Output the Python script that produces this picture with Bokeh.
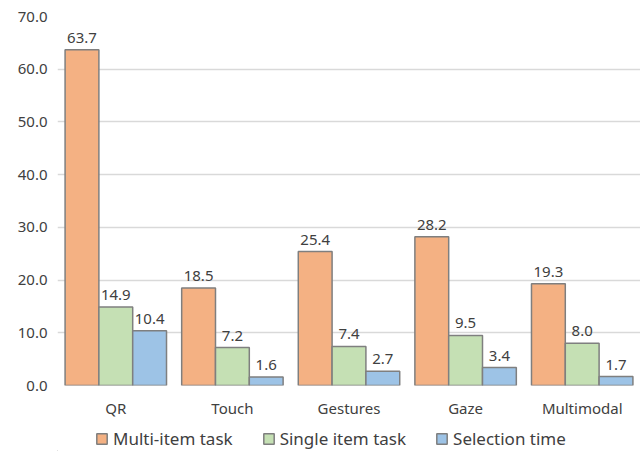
from bokeh.plotting import figure
from bokeh.models import ColumnDataSource, Legend, LegendItem, LabelSet, FactorRange, NumeralTickFormatter, Range1d
from bokeh.layouts import column
from bokeh.core.properties import value
from bokeh.transform import dodge
from bokeh.embed import file_html
from bokeh.resources import INLINE

categories = ["QR", "Touch", "Gestures", "Gaze", "Multimodal"]
multi_item = [63.7, 18.5, 25.4, 28.2, 19.3]
single_item = [14.9, 7.2, 7.4, 9.5, 8.0]
selection_time = [10.4, 1.6, 2.7, 3.4, 1.7]
y_ticks = [0, 10, 20, 30, 40, 50, 60, 70]

series = [("multi", "Multi-item task", "#F4B183", -0.29),
          ("single", "Single item task", "#C5E0B4", 0.0),
          ("sel", "Selection time", "#9DC3E6", 0.29)]

src = ColumnDataSource(data=dict(
    cat=categories, multi=multi_item, single=single_item, sel=selection_time,
    multi_l=[f"{v:.1f}" for v in multi_item],
    single_l=[f"{v:.1f}" for v in single_item],
    sel_l=[f"{v:.1f}" for v in selection_time],
))

FONT = "Noto Sans"
W = 640
p = figure(x_range=FactorRange(*categories, range_padding=0), y_range=(0, 70),
           width=W, height=420, output_backend="svg", toolbar_location=None,
           min_border_left=57, min_border_right=0, min_border_top=16, min_border_bottom=35)
p.outline_line_color = None
p.xgrid.grid_line_color = None
p.ygrid.grid_line_color = "#D9D9D9"
p.ygrid.grid_line_width = 1.3
p.yaxis.ticker = y_ticks
p.yaxis.formatter = NumeralTickFormatter(format="0.0")
for ax in (p.xaxis, p.yaxis):
    ax.axis_line_color = None
    ax.major_tick_line_color = None
    ax.minor_tick_line_color = None
    ax.major_tick_out = 0
    ax.major_tick_in = 0
    ax.minor_tick_out = 0
    ax.major_label_text_font = FONT
    ax.major_label_text_font_size = "15px"
    ax.major_label_text_color = "#404040"
p.xaxis.major_label_standoff = 12
p.yaxis.major_label_standoff = 10

# legend-only strip
p2 = figure(width=W, height=31, output_backend="svg", toolbar_location=None,
            x_range=Range1d(0, 1), y_range=Range1d(0, 1),
            min_border_left=0, min_border_right=0, min_border_top=0, min_border_bottom=0)
p2.axis.visible = False
p2.grid.visible = False
p2.outline_line_color = None

items = []
for key, label, color, off in series:
    p.vbar(x=dodge("cat", off, range=p.x_range), top=key, width=0.29, source=src,
           fill_color=color, line_color="#7F7F7F", line_width=1.5)
    labels = LabelSet(x=dodge("cat", off, range=p.x_range), y=key, text=key + "_l", source=src,
                      text_align="center", text_baseline="bottom", y_offset=7,
                      text_font=value(FONT), text_font_size="15px", text_color="#404040")
    p.add_layout(labels)
    # off-screen stand-in so that the legend strip can draw a swatch
    dummy = p2.vbar(x=[-5], top=[-5], width=0.1, fill_color=color, line_color="#7F7F7F", line_width=1.5)
    items.append(LegendItem(label=label, renderers=[dummy]))

legend = Legend(items=items, orientation="horizontal", location=(38, 1),
                label_text_font=FONT, label_text_font_size="17px", label_text_color="#404040",
                glyph_width=13, glyph_height=13, spacing=29, label_standoff=5,
                border_line_color=None, background_fill_alpha=0, padding=0, margin=0)
p2.add_layout(legend)

open("out.html", "w").write(file_html(column(p, p2, spacing=0), INLINE))
